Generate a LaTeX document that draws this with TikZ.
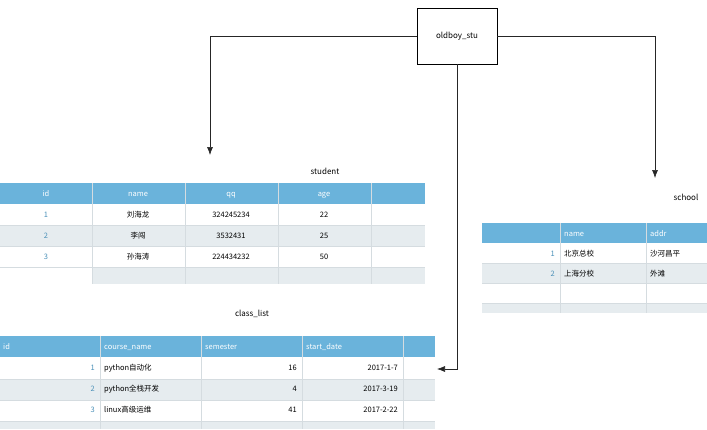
\documentclass[tikz,border=0pt]{standalone}
\usepackage{fontspec}
\setmainfont{Noto Sans CJK SC}
\usetikzlibrary{positioning,arrows.meta}
\definecolor{headblue}{HTML}{6AB3DB}
\definecolor{rowgrey}{HTML}{E6ECEF}
\definecolor{idblue}{HTML}{4A90B8}
\definecolor{gridline}{HTML}{D5DCE0}
\begin{document}
\begin{tikzpicture}
    [
      x=1pt, y=-1pt,
      font=\fontsize{7.5}{9}\selectfont,
      head/.style={fill=headblue},
      shade/.style={fill=rowgrey},
      cell/.style={inner sep=0pt, anchor=base, yshift=-3pt},
      lcell/.style={inner sep=0pt, anchor=base west, yshift=-3pt},
      rcell/.style={inner sep=0pt, anchor=base east, yshift=-3pt},
      htext/.style={text=white},
      idtext/.style={text=idblue},
      title/.style={inner sep=0pt, anchor=base, yshift=-3pt, font=\fontsize{8}{9}\selectfont},
      tablebox/.style={draw, semithick, minimum width=80pt, minimum height=56pt},
      link/.style={-{Latex[length=8pt,width=6pt]}, semithick, draw=black!85},
    ]
    \useasboundingbox (0,0) rectangle (707,429);

    % student
    \fill[head] (0,183) rectangle (425,204);
    \fill[shade] (0,225) rectangle (425,246);
    \fill[shade] (92,267) rectangle (425,284);
    \foreach \x in {92,185,278,371}
      \draw[gridline] (\x,183) -- (\x,284);
    \foreach \y in {225,246,267}
      \draw[gridline] (0,\y) -- (425,\y);
    \node[title] (student) at (325,171) {student};
    \node[cell,htext] (s-id)   at (46,193.5)  {id};
    \node[cell,htext] (s-name) at (138,193.5) {name};
    \node[cell,htext] (s-qq)   at (231,193.5) {qq};
    \node[cell,htext] (s-age)  at (324,193.5) {age};
    \foreach \i/\n/\q/\a [count=\r] in {1/刘海龙/324245234/22, 2/李闯/3532431/25, 3/孙海涛/224434232/50}
      {
        \node[cell,idtext] (s-id\r)   at (46,193.5+21*\r)  {\i};
        \node[cell]        (s-name\r) at (138,193.5+21*\r) {\n};
        \node[cell]        (s-qq\r)   at (231,193.5+21*\r) {\q};
        \node[cell]        (s-age\r)  at (324,193.5+21*\r) {\a};
      }

    % class_list
    \fill[head] (0,336) rectangle (435,357);
    \fill[shade] (0,379) rectangle (435,400);
    \fill[shade] (0,421) rectangle (435,429);
    \foreach \x in {100,201,302,403}
      \draw[gridline] (\x,336) -- (\x,429);
    \foreach \y in {379,400,421}
      \draw[gridline] (0,\y) -- (435,\y);
    \node[title] (class list) at (252,313) {class\_list};
    \node[lcell,htext] (c-id)   at (3,346.5)   {id};
    \node[lcell,htext] (c-name) at (104,346.5) {course\_name};
    \node[lcell,htext] (c-sem)  at (205,346.5) {semester};
    \node[lcell,htext] (c-date) at (306,346.5) {start\_date};
    \foreach \n/\s/\d [count=\r] in {python自动化/16/2017-1-7, python全栈开发/4/2017-3-19, linux高级运维/41/2017-2-22}
      {
        \node[rcell,idtext] (c-id\r)   at (95,346.5+21*\r)  {\r};
        \node[lcell]        (c-name\r) at (104,346.5+21*\r) {\n};
        \node[rcell]        (c-sem\r)  at (297,346.5+21*\r) {\s};
        \node[rcell]        (c-date\r) at (398,346.5+21*\r) {\d};
      }

    % school
    \fill[head] (482,223) rectangle (707,243);
    \fill[shade] (482,263) rectangle (707,283);
    \fill[shade] (482,303) rectangle (707,313);
    \foreach \x in {560,646}
      \draw[gridline] (\x,223) -- (\x,313);
    \foreach \y in {263,283,303}
      \draw[gridline] (482,\y) -- (707,\y);
    \node[title] (school) at (686,197) {school};
    \node[lcell,htext] (h-name) at (564,233) {name};
    \node[lcell,htext] (h-addr) at (650,233) {addr};
    \foreach \n/\a [count=\r] in {北京总校/沙河昌平, 上海分校/外滩}
      {
        \node[rcell,idtext] (h-id\r)   at (555,233+20*\r) {\r};
        \node[lcell]        (h-name\r) at (564,233+20*\r) {\n};
        \node[lcell]        (h-addr\r) at (650,233+20*\r) {\a};
      }

    % links
    \node[tablebox, font=\fontsize{8}{9}\selectfont] (oldboy) at (457,36) {oldboy\_stu};
    \coordinate (to student) at (210,155);
    \coordinate (to school)  at (655,178);
    \coordinate (to class)   at (437,369);
    \draw[link] (oldboy.west) -| (to student);
    \draw[link] (oldboy.east) -| (to school);
    \draw[link] (oldboy.south) |- (to class);
  \end{tikzpicture}
\end{document}
